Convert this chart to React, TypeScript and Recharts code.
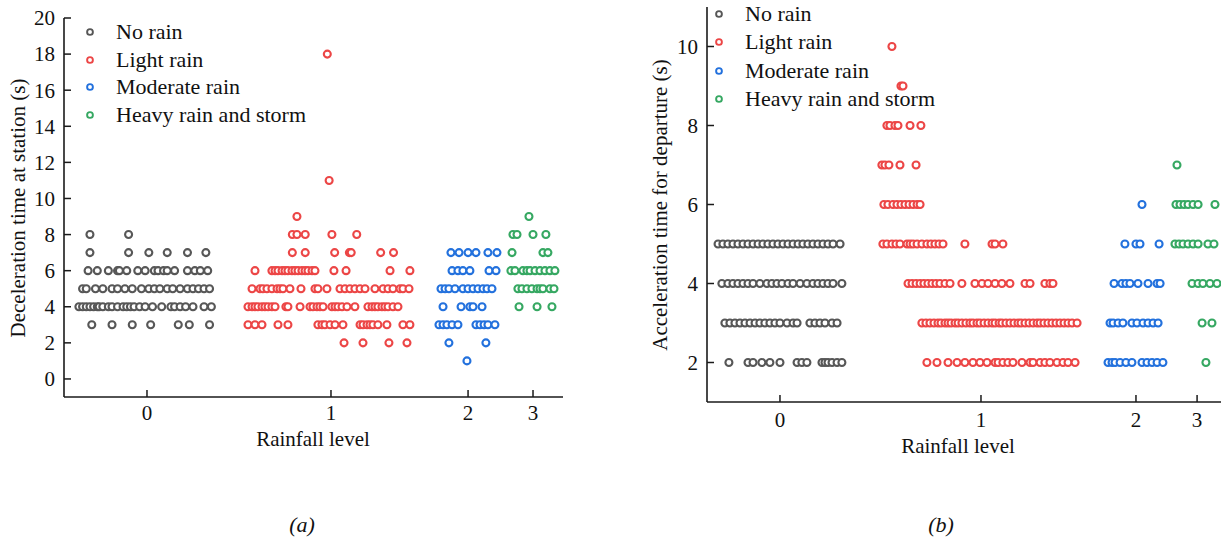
import React from 'react';
import { ScatterChart, Scatter, XAxis, YAxis, Legend } from 'recharts';

// rows of each series: y value -> jittered x positions (in rainfall-level axis units)
const noRainA: Record<number, number[]> = {
  8: [-0.31, -0.1],
  7: [-0.31, -0.1, 0.01, 0.11, 0.22, 0.32],
  6: [-0.32, -0.27, -0.21, -0.16, -0.15, -0.11, -0.05, -0.01, 0.04, 0.06, 0.09, 0.11, 0.15, 0.22, 0.26, 0.29, 0.33],
  5: [-0.35, -0.33, -0.28, -0.24, -0.19, -0.16, -0.12, -0.08, -0.03, 0.01, 0.04, 0.07, 0.11, 0.14, 0.18, 0.22, 0.25, 0.28, 0.31, 0.34],
  4: [-0.37, -0.35, -0.33, -0.31, -0.29, -0.27, -0.26, -0.24, -0.21, -0.19, -0.16, -0.13, -0.11, -0.09, -0.07, -0.04, -0.01, 0.03, 0.08, 0.13, 0.15, 0.18, 0.21, 0.25, 0.31, 0.35],
  3: [-0.3, -0.19, -0.08, 0.02, 0.17, 0.23, 0.34],
};
const lightRainA: Record<number, number[]> = {
  18: [0.98],
  11: [0.99],
  9: [0.815],
  8: [0.79, 0.815, 0.86, 1.005, 1.14],
  7: [0.79, 0.86, 1.02, 1.1, 1.11, 1.27, 1.34],
  6: [0.587, 0.679, 0.696, 0.712, 0.734, 0.75, 0.766, 0.788, 0.804, 0.821, 0.842, 0.859, 0.875, 0.897, 0.913, 1.016, 1.082, 1.321, 1.429],
  5: [0.571, 0.614, 0.63, 0.652, 0.679, 0.707, 0.723, 0.739, 0.777, 0.837, 0.913, 0.929, 0.978, 1.049, 1.076, 1.103, 1.13, 1.158, 1.185, 1.239, 1.283, 1.31, 1.337, 1.375, 1.391, 1.424],
  4: [0.549, 0.571, 0.587, 0.603, 0.625, 0.641, 0.658, 0.679, 0.696, 0.755, 0.766, 0.832, 0.886, 0.902, 0.924, 0.94, 0.957, 1.005, 1.022, 1.038, 1.06, 1.087, 1.13, 1.201, 1.223, 1.239, 1.255, 1.277, 1.293, 1.31, 1.337, 1.364],
  3: [0.549, 0.587, 0.625, 0.712, 0.766, 0.929, 0.951, 0.967, 0.995, 1.022, 1.065, 1.158, 1.174, 1.196, 1.212, 1.228, 1.255, 1.304, 1.391, 1.429],
  2: [1.071, 1.174, 1.315, 1.413],
};
const moderateRainA: Record<number, number[]> = {
  7: [1.652, 1.696, 1.745, 1.788, 1.853, 1.902],
  6: [1.658, 1.69, 1.717, 1.755, 1.859, 1.897],
  5: [1.598, 1.62, 1.641, 1.674, 1.717, 1.745, 1.772, 1.799, 1.826, 1.848, 1.875],
  4: [1.609, 1.707, 1.755, 1.772, 1.821],
  3: [1.587, 1.609, 1.63, 1.658, 1.69, 1.788, 1.81, 1.832, 1.853, 1.891],
  2: [1.641, 1.842],
  1: [1.739],
};
const heavyRainA: Record<number, number[]> = {
  9: [2.076],
  8: [1.989, 2.011, 2.098, 2.168],
  7: [1.984, 2.152, 2.179],
  6: [1.978, 2.0, 2.043, 2.065, 2.082, 2.109, 2.136, 2.163, 2.19, 2.217],
  5: [2.016, 2.038, 2.065, 2.092, 2.12, 2.136, 2.152, 2.19, 2.212],
  4: [2.022, 2.12, 2.201],
};

const noRainB: Record<number, number[]> = {
  5: [-0.308, -0.284, -0.259, -0.234, -0.209, -0.184, -0.159, -0.134, -0.109, -0.085, -0.06, -0.035, -0.01, 0.015, 0.04, 0.065, 0.09, 0.114, 0.139, 0.164, 0.189, 0.214, 0.239, 0.264, 0.299],
  4: [-0.289, -0.259, -0.234, -0.209, -0.184, -0.159, -0.134, -0.1, -0.065, -0.04, -0.015, 0.01, 0.04, 0.065, 0.1, 0.134, 0.164, 0.189, 0.214, 0.239, 0.264, 0.308],
  3: [-0.274, -0.249, -0.224, -0.199, -0.174, -0.149, -0.124, -0.1, -0.075, -0.05, -0.025, 0, 0.035, 0.065, 0.085, 0.149, 0.174, 0.199, 0.224, 0.259, 0.284],
  2: [-0.254, -0.159, -0.134, -0.09, -0.05, 0, 0.085, 0.109, 0.134, 0.209, 0.224, 0.239, 0.259, 0.284, 0.308],
};
const lightRainB: Record<number, number[]> = {
  10: [0.557],
  9: [0.602, 0.612],
  8: [0.532, 0.547, 0.572, 0.587, 0.647, 0.701],
  7: [0.507, 0.522, 0.542, 0.597, 0.677],
  6: [0.517, 0.537, 0.562, 0.582, 0.602, 0.622, 0.642, 0.662, 0.682, 0.697],
  5: [0.512, 0.532, 0.557, 0.577, 0.597, 0.632, 0.647, 0.662, 0.682, 0.706, 0.731, 0.751, 0.771, 0.791, 0.811, 0.92, 1.055, 1.07, 1.109],
  4: [0.637, 0.657, 0.677, 0.697, 0.716, 0.736, 0.756, 0.776, 0.796, 0.821, 0.846, 0.905, 0.97, 1.005, 1.035, 1.07, 1.104, 1.144, 1.219, 1.244, 1.318, 1.343, 1.358],
  3: [0.706, 0.726, 0.746, 0.766, 0.786, 0.801, 0.821, 0.836, 0.851, 0.871, 0.886, 0.905, 0.925, 0.945, 0.96, 0.98, 0.995, 1.015, 1.035, 1.055, 1.07, 1.09, 1.104, 1.124, 1.144, 1.164, 1.184, 1.199, 1.219, 1.239, 1.259, 1.279, 1.294, 1.313, 1.333, 1.353, 1.373, 1.393, 1.413, 1.433, 1.453, 1.478],
  2: [0.731, 0.781, 0.836, 0.881, 0.92, 0.96, 0.995, 1.03, 1.07, 1.085, 1.109, 1.134, 1.159, 1.204, 1.244, 1.259, 1.294, 1.318, 1.343, 1.378, 1.408, 1.433, 1.468],
};
const moderateRainB: Record<number, number[]> = {
  6: [1.801],
  5: [1.716, 1.771, 1.791, 1.886],
  4: [1.662, 1.701, 1.721, 1.741, 1.781, 1.831, 1.876, 1.891],
  3: [1.642, 1.657, 1.682, 1.706, 1.751, 1.776, 1.806, 1.831, 1.856, 1.881],
  2: [1.632, 1.652, 1.667, 1.692, 1.721, 1.751, 1.801, 1.826, 1.851, 1.876, 1.905],
};
const heavyRainB: Record<number, number[]> = {
  7: [1.975],
  6: [1.97, 1.99, 2.01, 2.03, 2.055, 2.08, 2.164],
  5: [1.965, 1.985, 2.005, 2.03, 2.055, 2.08, 2.129, 2.159],
  4: [2.05, 2.08, 2.104, 2.139, 2.174],
  3: [2.1, 2.149],
  2: [2.119],
};

const seriesNames = ['No rain', 'Light rain', 'Moderate rain', 'Heavy rain and storm'];
const seriesColors = ['#575757', '#ec4646', '#2371dd', '#36a862'];
const levelLabels = ['0', '1', '2', '3'];
const levelTicksA = [0, 1, 1.745, 2.098];
const levelTicksB = [0, 1, 1.771, 2.075];
const yTicksA = [0, 2, 4, 6, 8, 10, 12, 14, 16, 18, 20];
const yTicksB = [2, 4, 6, 8, 10];

const FONT = '"Liberation Serif", "Times New Roman", serif';
const AXIS = '#1a1a1a';
const TICK_LEN = 7;

const toPoints = (rows: Record<number, number[]>) =>
  Object.entries(rows).flatMap(([y, xs]) => xs.map((x) => ({ x, y: Number(y) })));

const makeDot = (color: string) => (props: any) =>
  <circle cx={props.cx} cy={props.cy} r={3.5} fill="#fff" stroke={color} strokeWidth={2.1} />;

const makeYTick = (gap: number) => (props: any) => {
  const { x, y, payload } = props;
  const ax = x + gap;
  return (
    <g>
      <line x1={ax} x2={ax + TICK_LEN} y1={y} y2={y} stroke={AXIS} strokeWidth={1.5} />
      <text x={x} y={y} dy="0.35em" textAnchor="end" fontSize={21} fontFamily={FONT} fill="#111">
        {payload.value}
      </text>
    </g>
  );
};

const makeXTick = (gap: number, ticks: number[]) => (props: any) => {
  const { x, y, payload } = props;
  const ay = y - gap;
  const i = ticks.indexOf(payload.value);
  return (
    <g>
      <line x1={x} x2={x} y1={ay} y2={ay - TICK_LEN} stroke={AXIS} strokeWidth={1.5} />
      <text x={x} y={y} dy="0.35em" textAnchor="middle" fontSize={21} fontFamily={FONT} fill="#111">
        {levelLabels[i]}
      </text>
    </g>
  );
};

function LegendBox({ rowH }: { rowH: number }) {
  return (
    <div style={{ fontFamily: FONT, fontSize: 22, color: '#111' }}>
      {seriesNames.map((n, i) => (
        <div key={n} style={{ display: 'flex', alignItems: 'center', height: rowH, whiteSpace: 'nowrap' }}>
          <svg width={20} height={12} style={{ marginRight: 16 }}>
            <circle cx={10} cy={6} r={2.9} fill="#fff" stroke={seriesColors[i]} strokeWidth={1.9} />
          </svg>
          <span>{n}</span>
        </div>
      ))}
    </div>
  );
}

type PanelProps = {
  rows: Record<number, number[]>[];
  width: number;
  height: number;
  margin: { top: number; right: number; bottom: number; left: number };
  yWidth: number;
  xDomain: [number, number];
  xTicks: number[];
  xGap: number;
  yDomain: [number, number];
  yTicks: number[];
  legendPos: { left: number; top: number };
  legendRow: number;
};

function Panel(p: PanelProps) {
  return (
    <ScatterChart width={p.width} height={p.height} margin={p.margin}>
      <XAxis
        type="number"
        dataKey="x"
        domain={p.xDomain}
        ticks={p.xTicks}
        interval={0}
        allowDataOverflow
        height={43}
        tickSize={0}
        tickMargin={p.xGap}
        tickLine={false}
        axisLine={{ stroke: AXIS, strokeWidth: 1.6 }}
        tick={makeXTick(p.xGap, p.xTicks)}
      />
      <YAxis
        type="number"
        dataKey="y"
        domain={p.yDomain}
        ticks={p.yTicks}
        interval={0}
        allowDataOverflow
        width={p.yWidth}
        tickSize={0}
        tickMargin={9}
        tickLine={false}
        axisLine={{ stroke: AXIS, strokeWidth: 1.6 }}
        tick={makeYTick(9)}
      />
      <Legend
        layout="vertical"
        align="center"
        verticalAlign="middle"
        wrapperStyle={{ left: p.legendPos.left, top: p.legendPos.top, width: 280, height: p.legendRow * 4 }}
        content={() => <LegendBox rowH={p.legendRow} />}
      />
      {p.rows.map((r, i) => (
        <Scatter
          key={seriesNames[i]}
          name={seriesNames[i]}
          data={toPoints(r)}
          fill={seriesColors[i]}
          shape={makeDot(seriesColors[i])}
          isAnimationActive={false}
        />
      ))}
    </ScatterChart>
  );
}

const textStyle: React.CSSProperties = {
  position: 'absolute',
  fontFamily: FONT,
  fontSize: 21,
  lineHeight: '22px',
  color: '#111',
  whiteSpace: 'nowrap',
  transform: 'translate(-50%, -50%)',
};

export default function App() {
  return (
    <div style={{ position: 'absolute', left: 0, top: 0, width: 1221, height: 545, background: '#fff', overflow: 'hidden' }}>
      <div style={{ position: 'absolute', left: 0, top: 0 }}>
        <Panel
          rows={[noRainA, lightRainA, moderateRainA, heavyRainA]}
          width={600}
          height={460}
          margin={{ top: 18, right: 37, bottom: 20, left: 0 }}
          yWidth={64}
          xDomain={[-0.451, 2.261]}
          xTicks={levelTicksA}
          xGap={16}
          yDomain={[-1, 20]}
          yTicks={yTicksA}
          legendPos={{ left: 80, top: 18 }}
          legendRow={27.7}
        />
      </div>
      <div style={{ position: 'absolute', left: 620, top: 0 }}>
        <Panel
          rows={[noRainB, lightRainB, moderateRainB, heavyRainB]}
          width={601}
          height={460}
          margin={{ top: 7, right: 0, bottom: 15, left: 0 }}
          yWidth={87}
          xDomain={[-0.363, 2.194]}
          xTicks={levelTicksB}
          xGap={18}
          yDomain={[1, 11]}
          yTicks={yTicksB}
          legendPos={{ left: 89, top: 0 }}
          legendRow={28.3}
        />
      </div>
      <div style={{ ...textStyle, left: 18, top: 208, transform: 'translate(-50%, -50%) rotate(-90deg)' }}>
        Deceleration time at station (s)
      </div>
      <div style={{ ...textStyle, left: 660, top: 205, transform: 'translate(-50%, -50%) rotate(-90deg)' }}>
        Acceleration time for departure (s)
      </div>
      <div style={{ ...textStyle, left: 313, top: 439 }}>Rainfall level</div>
      <div style={{ ...textStyle, left: 958, top: 446 }}>Rainfall level</div>
      <div style={{ ...textStyle, left: 302, top: 525, fontStyle: 'italic', fontSize: 22 }}>(a)</div>
      <div style={{ ...textStyle, left: 941, top: 525, fontStyle: 'italic', fontSize: 22 }}>(b)</div>
    </div>
  );
}
